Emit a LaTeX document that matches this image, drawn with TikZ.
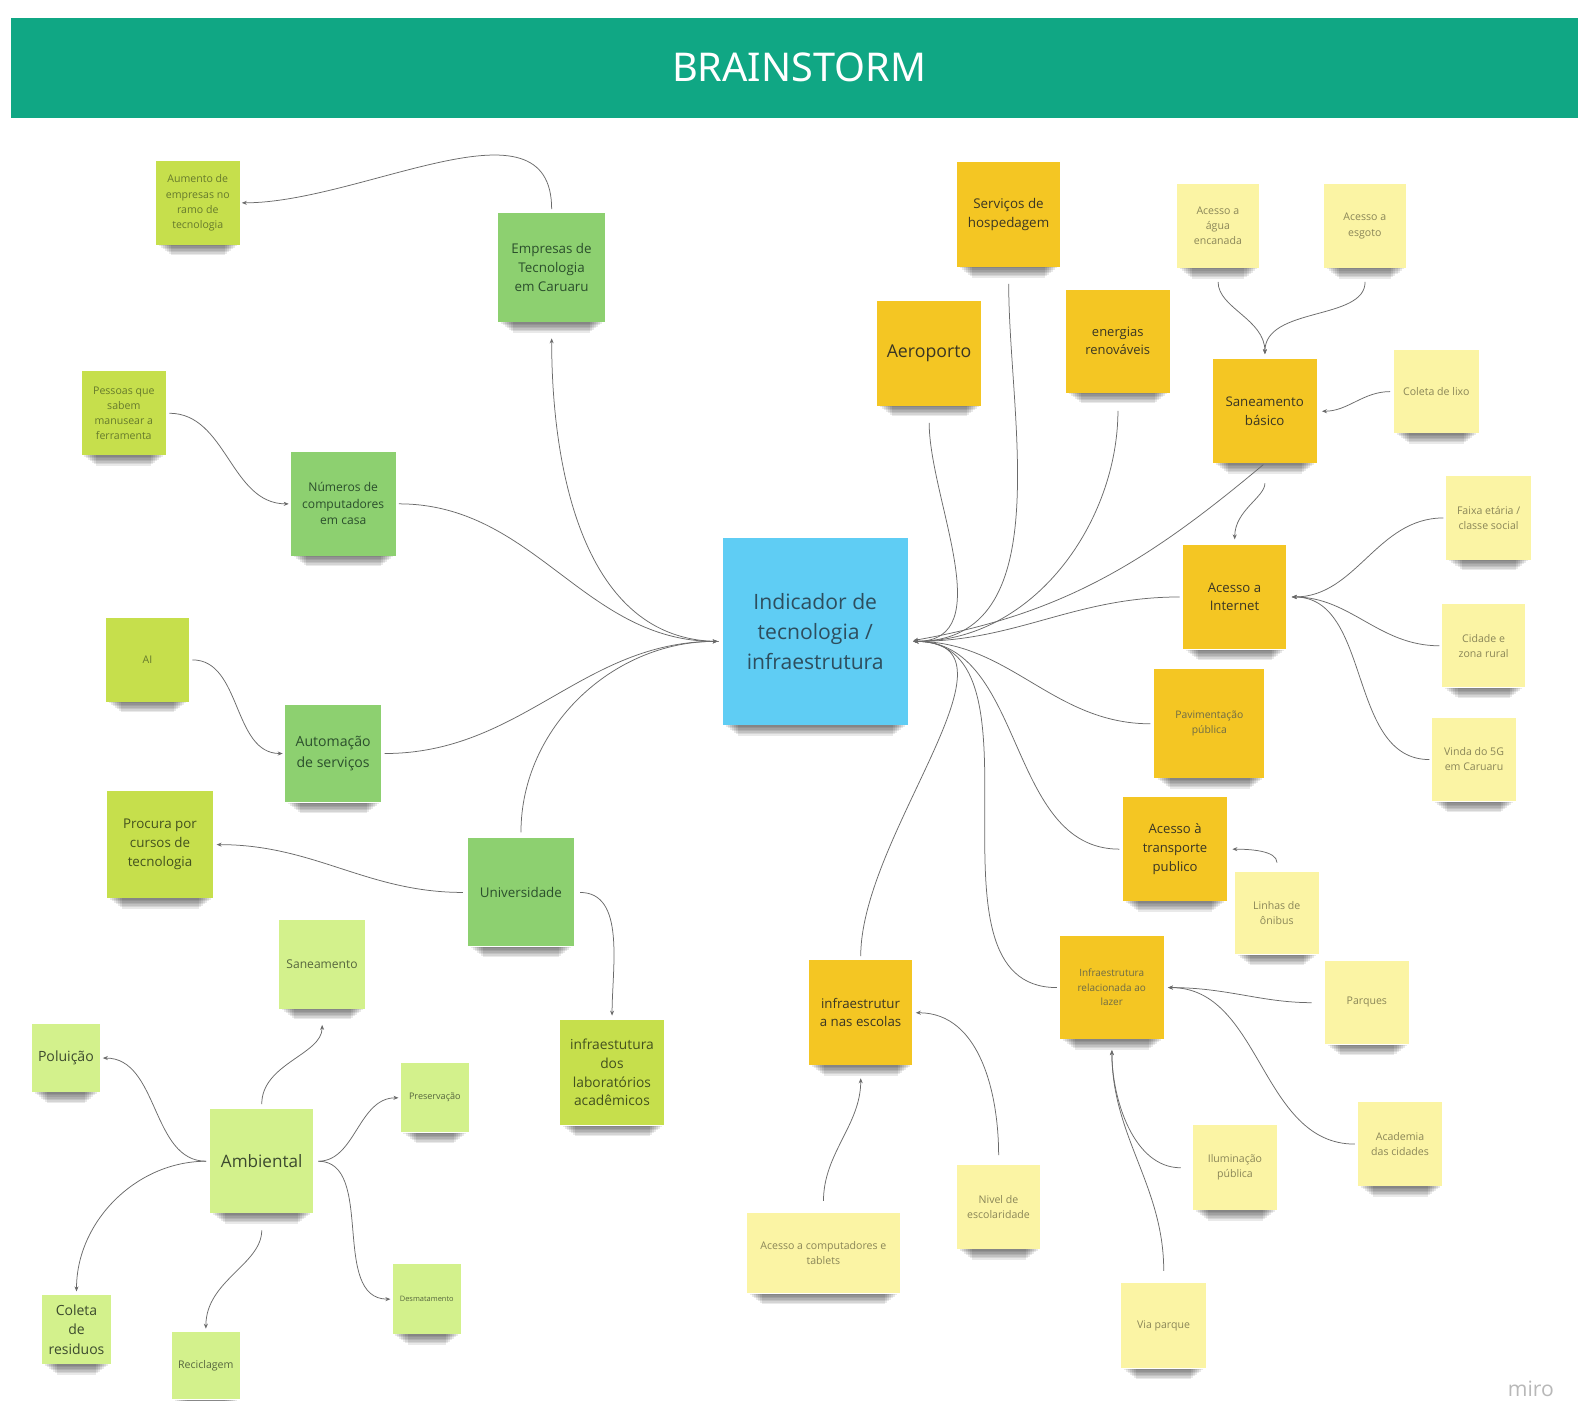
\documentclass[tikz,border=0pt]{standalone}
\usepackage{fontspec}
\setmainfont{Open Sans}
\newfontfamily\titlefont{Noto Sans}
\usetikzlibrary{arrows.meta,calc}
\pgfdeclarelayer{bg}
\pgfsetlayers{bg,main}
\definecolor{hdr}{HTML}{10A784}
\definecolor{limeN}{HTML}{C6DF4C}
\definecolor{midg}{HTML}{8DD070}
\definecolor{lgr}{HTML}{D3F18C}
\definecolor{goldN}{HTML}{F4C623}
\definecolor{lyel}{HTML}{FBF4A4}
\definecolor{cblue}{HTML}{5FCDF4}
\definecolor{linec}{HTML}{6A6A6A}
\definecolor{tdark}{HTML}{3A3624}
\definecolor{tolive}{HTML}{8A8658}
\definecolor{tlime}{HTML}{667A2C}
\definecolor{tlimed}{HTML}{43511E}
\definecolor{tgreen}{HTML}{2B4F2C}
\definecolor{tlgr}{HTML}{56663E}
\definecolor{tlgrd}{HTML}{3C4A2E}
\definecolor{tblue}{HTML}{2E4E5E}
\newcommand\nfs[2]{\fontsize{#1}{#2}\selectfont}
\begin{document}
\begin{tikzpicture}[x=1pt,y=1pt, scale=1.0065,
  every node/.append style={transform shape},
  note/.style={rectangle, inner sep=2pt, align=center},
  limenote/.style={note, fill=limeN, text=tlime},
  gnote/.style={note, fill=midg, text=tgreen},
  lgnote/.style={note, fill=lgr, text=tlgr},
  ynote/.style={note, fill=goldN, text=tdark},
  lynote/.style={note, fill=lyel, text=tolive},
  sml/.style={font=\nfs{10.5}{15}},
  med/.style={font=\nfs{13.3}{19}},
  sz/.style 2 args={minimum width=#1, minimum height=#2},
  conn/.style={draw=linec, line width=0.75pt},
  arr/.style={-{Stealth[length=5pt,width=4pt]}},
  shadowbit/.style={fill=black, opacity=0.085}
]
\useasboundingbox (0,0) rectangle (1567.8,-1391);
\begin{pgfonlayer}{bg}
\fill[white] (0,0) rectangle (1567.8,-1391);
\end{pgfonlayer}
% header
\fill[hdr] (11,-18) rectangle (1567.8,-117);
\node[text=white, font=\titlefont\nfs{39.4}{41}] (title) at (794,-67) {BRAINSTORM};

% ---- left side
\node[limenote, sml, sz={83}{83}] (aum) at (196.5,-201.5) {Aumento de\\empresas no\\ramo de\\tecnologia};
\node[gnote, med, sz={106}{108}] (emp) at (548,-266) {Empresas de\\Tecnologia\\em Caruaru};
\node[limenote, sml, sz={84}{83}] (pes) at (123,-410.5) {Pessoas que\\sabem\\manusear a\\ferramenta};
\node[gnote, font=\nfs{12}{16.5}, sz={104}{103}] (num) at (341,-500.5) {Números de\\computadores\\em casa};
\node[limenote, sml, sz={83}{83}] (ai) at (146.5,-655.5) {AI};
\node[gnote, font=\nfs{14}{21}, sz={96}{97}] (aut) at (331,-748.5) {Automação\\de serviços};
\node[limenote, med, sz={106}{106}, text=tlimed] (proc) at (159,-839) {Procura por\\cursos de\\tecnologia};
\node[gnote, med, sz={105}{107}] (univ) at (517.5,-886.5) {Universidade};
\node[limenote, font=\nfs{13.7}{18.7}, sz={104}{105}, text=tlimed] (lab) at (608,-1065.5) {infraestutura\\dos\\laboratórios\\acadêmicos};
\node[lgnote, font=\nfs{12}{16}, sz={86}{88}] (san) at (320,-958) {Saneamento};
\node[lgnote, font=\nfs{14}{19}, sz={67}{68}, text=tlgrd] (pol) at (65.5,-1051) {Poluição};
\node[lgnote, font=\nfs{17}{22}, sz={102}{103}, text=tlgrd] (amb) at (260,-1153.5) {Ambiental};
\node[lgnote, font=\nfs{9}{11}, sz={68}{69}] (pres) at (432,-1090.5) {Preservação};
\node[lgnote, font=\nfs{7.4}{9}, sz={68}{69}] (desm) at (424,-1290.5) {Desmatamento};
\node[lgnote, font=\nfs{13.9}{19.5}, sz={68}{68}, text=tlgrd] (col) at (76,-1321) {Coleta\\de\\residuos};
\node[lgnote, sml, sz={67}{67}] (rec) at (204.5,-1356.5) {Reciclagem};

% ---- center
\node[note, fill=cblue, text=tblue, font=\nfs{21}{30}, sz={184}{185}] (center) at (810,-627.5) {Indicador de\\tecnologia /\\infraestrutura};
\coordinate (cL) at ([yshift=-9.5pt]center.west);
\coordinate (cR) at ([yshift=-9.5pt]center.east);

% ---- right side
\node[ynote, font=\nfs{17.6}{22}, sz={104}{104}] (aero) at (923,-351) {Aeroporto};
\node[ynote, med, sz={102}{104}] (hosp) at (1002,-213) {Serviços de\\hospedagem};
\node[ynote, font=\nfs{12.9}{18}, sz={103}{102}] (ener) at (1110.5,-339) {energias\\renováveis};
\node[lynote, sml, sz={82}{83}] (agua) at (1210,-224.5) {Acesso a\\água\\encanada};
\node[lynote, sml, sz={82}{83}] (esg) at (1356,-224.5) {Acesso a\\esgoto};
\node[ynote, font=\nfs{13.2}{18.5}, sz={103}{103}] (sanb) at (1256.5,-408.5) {Saneamento\\básico};
\node[lynote, sml, sz={84}{82}] (lixo) at (1427,-389) {Coleta de lixo};
\node[lynote, sml, sz={84}{83}] (fx) at (1479,-514.5) {Faixa etária /\\classe social};
\node[ynote, font=\nfs{13.1}{18.5}, sz={103}{104}] (inet) at (1226.5,-593) {Acesso a\\Internet};
\node[lynote, sml, sz={82}{83}] (cid) at (1474,-641.5) {Cidade e\\zona rural};
\node[ynote, font=\nfs{10.3}{15}, sz={109}{108}, text=tolive!80!black] (pav) at (1201.5,-719) {Pavimentação\\pública};
\node[lynote, sml, sz={83}{83}] (fiveg) at (1464.5,-754.5) {Vinda do 5G\\em Caruaru};
\node[ynote, font=\nfs{13}{18.5}, sz={103}{103}] (trans) at (1167.5,-843.5) {Acesso à\\transporte\\publico};
\node[lynote, sml, sz={83}{82}] (lin) at (1268.5,-907) {Linhas de\\ônibus};
\node[ynote, font=\nfs{9.9}{14.5}, sz={103}{102}, text=tolive!80!black] (lazer) at (1104.5,-981) {Infraestrutura\\relacionada ao\\lazer};
\node[lynote, sml, sz={84}{83}] (parq) at (1358,-996) {Parques};
\node[lynote, sml, sz={84}{83}] (acad) at (1391,-1136.5) {Academia\\das cidades};
\node[lynote, sml, sz={84}{84}] (ilu) at (1227,-1160) {Iluminação\\pública};
\node[lynote, sml, sz={84}{85}] (via) at (1156,-1317) {Via parque};
\node[ynote, font=\nfs{13.2}{18.5}, sz={103}{104}] (esc) at (855,-1006) {infraestrutur\\a nas escolas};
\node[lynote, sml, sz={152}{80}] (comp) at (818,-1245) {Acesso a computadores e\\tablets};
\node[lynote, sml, sz={83}{83}] (niv) at (992,-1199) {Nivel de\\escolaridade};

% ---- shadows under the notes
\begin{pgfonlayer}{bg}
\foreach \n in {aum,emp,pes,num,ai,aut,proc,univ,lab,san,pol,amb,pres,desm,col,rec,
  center,aero,hosp,ener,agua,esg,sanb,lixo,fx,inet,cid,pav,fiveg,trans,lin,lazer,
  parq,acad,ilu,via,esc,comp,niv}{
  \foreach \k in {1,...,7}{
    \fill[shadowbit] ($(\n.south west)+(1+2*\k,0)$) rectangle ($(\n.south east)+(-1-2*\k,-1.5*\k)$);
  }
}
\end{pgfonlayer}

% ---- connectors, left
\draw[conn, arr, shorten <=4, shorten >=2] (emp.north) to[out=90, in=0] (aum.east);
\draw[conn, arr, shorten <=4, shorten >=16] (cL) to[out=180, in=270] (emp.south);
\draw[conn, arr, shorten <=3, shorten >=5] (num.east) to[out=0, in=180] (cL);
\draw[conn, arr, shorten <=3, shorten >=5] (aut.east) to[out=0, in=180] (cL);
\draw[conn, arr, shorten <=6, shorten >=5] (univ.north) to[out=90, in=180] (cL);
\draw[conn, arr, shorten <=3, shorten >=2] (pes.east) to[out=0, in=180] (num.west);
\draw[conn, arr, shorten <=3, shorten >=2] (ai.east) to[out=0, in=180] (aut.west);
\draw[conn, arr, shorten <=5, shorten >=3] (univ.west) to[out=180, in=0] (proc.east);
\draw[conn, arr, shorten <=6, shorten >=4] (univ.east) to[out=0, in=90] (lab.north);
\draw[conn, arr, shorten <=5, shorten >=16] (amb.north) to[out=90, in=270] (san.south);
\draw[conn, arr, shorten <=4, shorten >=3] (amb.west) to[out=180, in=0] (pol.east);
\draw[conn, arr, shorten <=4, shorten >=4] (amb.west) to[out=180, in=90] (col.north);
\draw[conn, arr, shorten <=17, shorten >=3] (amb.south) to[out=270, in=90] (rec.north);
\draw[conn, arr, shorten <=5, shorten >=2] (amb.east) to[out=0, in=180] (pres.west);
\draw[conn, arr, shorten <=5, shorten >=2] (amb.east) to[out=0, in=180] (desm.west);

% ---- connectors, right
\draw[conn, arr, shorten <=17, shorten >=5] (aero.south) to[out=270, in=0] (cR);
\draw[conn, arr, shorten <=17, shorten >=5] (hosp.south) to[out=270, in=0] (cR);
\draw[conn, arr, shorten <=18, shorten >=5] (ener.south) to[out=270, in=0] (cR);
\draw[conn, arr, shorten <=2, shorten >=5] (sanb.south) to[out=220, in=10] (cR);
\draw[conn, arr, shorten <=3, shorten >=5] (inet.west) to[out=180, in=0] (cR);
\draw[conn, arr, shorten <=4, shorten >=5] (pav.west) to[out=180, in=0] (cR);
\draw[conn, arr, shorten <=4, shorten >=5] (trans.west) to[out=180, in=0] (cR);
\draw[conn, arr, shorten <=3, shorten >=5] (lazer.west) to[out=180, in=0] (cR);
\draw[conn, arr, shorten <=4, shorten >=5] (esc.north) to[out=90, in=0] (cR);
\draw[conn, arr, shorten <=14, shorten >=5] (agua.south) to[out=270, in=90] (sanb.north);
\draw[conn, arr, shorten <=14, shorten >=5] (esg.south) to[out=270, in=90] (sanb.north);
\draw[conn, arr, shorten <=4, shorten >=5] (lixo.west) to[out=180, in=0] (sanb.east);
\draw[conn, arr, shorten <=20, shorten >=5] (sanb.south) to[out=270, in=90] (inet.north);
\draw[conn, arr, shorten <=3, shorten >=5] (fx.west) to[out=180, in=0] (inet.east);
\draw[conn, arr, shorten <=3, shorten >=5] (cid.west) to[out=180, in=0] (inet.east);
\draw[conn, arr, shorten <=3, shorten >=5] (fiveg.west) to[out=180, in=0] (inet.east);
\draw[conn, arr, shorten <=9, shorten >=5] (lin.north) to[out=90, in=0] (trans.east);
\draw[conn, arr, shorten <=13, shorten >=4] (parq.west) to[out=180, in=0] (lazer.east);
\draw[conn, arr, shorten <=3, shorten >=4] (acad.west) to[out=180, in=0] (lazer.east);
\draw[conn, arr, shorten <=12, shorten >=11] (ilu.west) to[out=180, in=270] (lazer.south);
\draw[conn, arr, shorten <=12, shorten >=11] (via.north) to[out=90, in=270] (lazer.south);
\draw[conn, arr, shorten <=12, shorten >=13] (comp.north) to[out=90, in=270] (esc.south);
\draw[conn, arr, shorten <=10, shorten >=3] (niv.north) to[out=90, in=0] (esc.east);

% watermark
\node[text=black!28, font=\nfs{21}{22}] (miro) at (1521,-1380) {miro};
\end{tikzpicture}
\end{document}
